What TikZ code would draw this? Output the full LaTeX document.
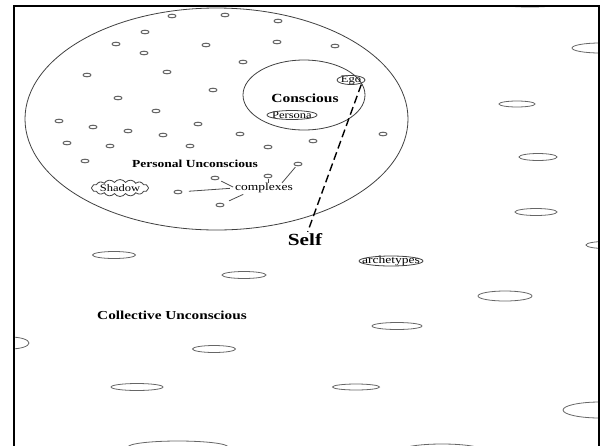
\documentclass[tikz,border=0pt]{standalone}
\usepackage{fontspec}
\setmainfont[FakeStretch=1.25]{Liberation Serif}
\usetikzlibrary{shapes.symbols}

\begin{document}
\begin{tikzpicture}[x=1pt, y=-1pt,
    dot/.style={draw=black!60, line width=1pt},
    blob/.style={draw=black!60, line width=0.8pt},
    rim/.style={draw=black!75, line width=0.8pt},
    word/.style={font=\fontsize{#1}{#1}\selectfont, inner sep=0pt},
    heading/.style={font=\bfseries\fontsize{#1}{#1}\selectfont, inner sep=0pt},
    cline/.style={draw=black!70, line width=0.8pt}]
    \useasboundingbox (0,0) rectangle (602,445);
    \begin{scope}
    \clip (14,6) rectangle (599,450);
    % the two spheres
    \draw[rim] (216.5,119) ellipse (191.5 and 111);
    \draw[rim] (304,95) ellipse (61 and 35);
    % small complexes in the personal unconscious
    \foreach \p in {(172,16),(225,15),(278,21),(145,32),(116,44),(144,53),(206,45),
        (277,42),(243,62),(87,75),(167,72),(213,90),(118,98),(156,111),(59,121),
        (93,127),(128,131),(163,135),(198,124),(67,143),(110,146),(190,146),
        (240,134),(268,147),(85,161),(335,46),(383,134),(313,141)}
        \draw[dot] \p ellipse (4 and 1.8);
    \coordinate (c1) at (178,192);
    \coordinate (c2) at (215,178);
    \coordinate (c3) at (268,176);
    \coordinate (c4) at (298,164);
    \coordinate (c5) at (220,205);
    \foreach \c in {c1,c2,c3,c4,c5}
        \draw[dot] (\c) ellipse (4 and 1.8);
    % archetypes of the collective unconscious
    \draw[blob] (114,255) ellipse (21.5 and 3.5);
    \draw[blob] (244,275) ellipse (22 and 3.5);
    \draw[blob] (214,349) ellipse (21.5 and 3.5);
    \draw[blob] (137,387) ellipse (26 and 3.5);
    \draw[blob] (10,343) ellipse (19 and 6);
    \draw[blob] (178,447) ellipse (50 and 6);
    \draw[blob] (442,450) ellipse (40 and 6);
    \draw[blob] (530,2) ellipse (37 and 5);
    \draw[blob] (600,48) ellipse (28 and 5);
    \draw[blob] (517,104) ellipse (18 and 3);
    \draw[blob] (538,157) ellipse (19 and 3.5);
    \draw[blob] (536,212) ellipse (21 and 3.5);
    \draw[blob] (605,245) ellipse (19 and 3.5);
    \draw[blob] (505,296) ellipse (27 and 5);
    \draw[blob] (397,326) ellipse (25 and 3.5);
    \draw[blob] (356,387) ellipse (23.5 and 3);
    \draw[blob] (600,410) ellipse (37 and 8);
    \end{scope}
    \draw[line width=2.4pt] (14,460) -- (14,6) -- (599,6) -- (599,460);

    \node[heading=12.4] (conscious) at (305,98) {Conscious};
    \node[heading=10.8] (personal) at (195,164) {Personal Unconscious};
    \node[heading=12.2] (collective) at (172,315) {Collective Unconscious};
    \node[heading=17] (self) at (305,240) {Self};
    \node[word=10] (ego) at (351,80) {Ego};
    \draw[rim] (ego) ellipse (14 and 4.5);
    \node[word=10] (persona) at (292,115) {Persona};
    \draw[rim] (persona) ellipse (25 and 4.5);
    \node[word=10.8] (arch) at (391,261) {archetypes};
    \draw[rim] (arch) ellipse (32 and 5);
    \node[word=10, cloud, draw=black!75, line width=0.8pt, cloud puffs=16,
        cloud puff arc=110, aspect=5, inner sep=0pt] (shadow) at (120,188) {Shadow};
    \node[word=10.8] (cx) at (264,188) {complexes};

    \draw[cline, shorten <=11pt, shorten >=5pt] (c1) -- (cx.west);
    \draw[cline, shorten <=7pt, shorten >=2pt] (c2) -- (cx.west);
    \draw[cline, shorten <=3pt] (c3) -- (c3 |- cx.north);
    \draw[cline, shorten <=4pt] (c4) -- ([xshift=18pt]cx.north);
    \draw[cline, shorten <=10pt, shorten >=3pt] (c5) -- ([xshift=-18pt]cx.south);
    \draw[line width=1.4pt, dash pattern=on 8pt off 4pt, shorten >=2pt]
        (ego.south east) -- ([xshift=2pt]self.north);
\end{tikzpicture}
\end{document}
